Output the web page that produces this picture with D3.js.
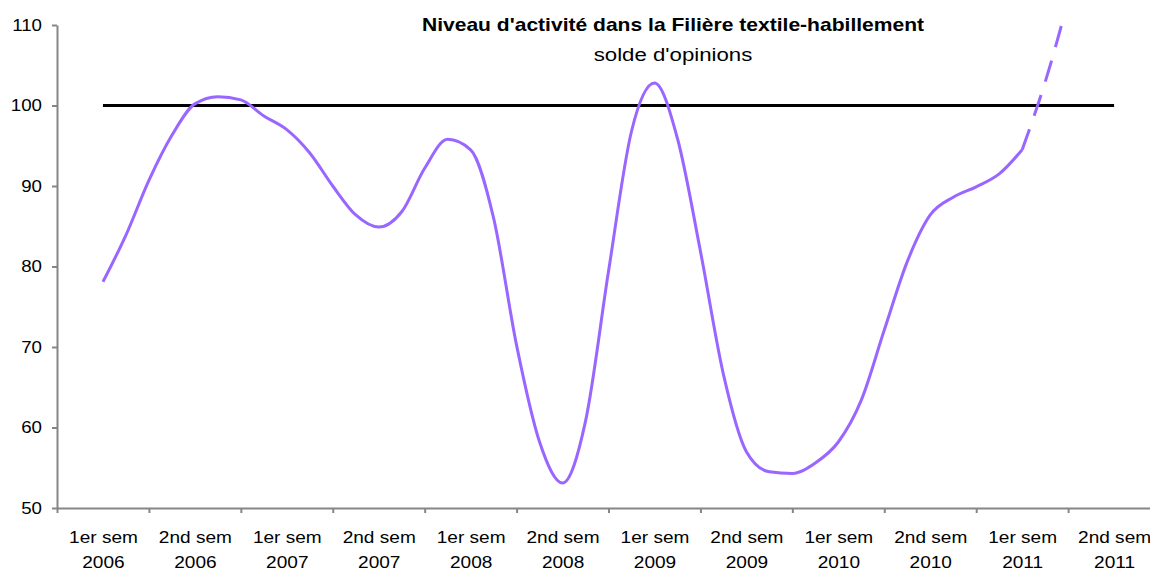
<!DOCTYPE html>
<html>
<head>
<meta charset="utf-8">
<script src="https://cdn.jsdelivr.net/npm/d3@7"></script>
<style>
	body { margin: 0; background: #fff; }
	svg { display: block; font-family: "Liberation Sans", Arial, sans-serif; }
</style>
</head>
<body>
<div id="chart"></div>
<script>
	// données
	var semestres = ["1er sem", "2nd sem", "1er sem", "2nd sem", "1er sem", "2nd sem",
		"1er sem", "2nd sem", "1er sem", "2nd sem", "1er sem", "2nd sem"];
	var annees = ["2006", "2006", "2007", "2007", "2008", "2008",
		"2009", "2009", "2010", "2010", "2011", "2011"];
	var yTicks = [50, 60, 70, 80, 90, 100, 110];

	// ligne de référence (base 100), un point par semestre
	var reference = [100, 100, 100, 100, 100, 100, 100, 100, 100, 100, 100, 100];

	// niveau d'activité, un point par trimestre (demi-semestre) à partir du 1er sem 2006
	var activite = [78.1, 83.9, 90.7, 96.3, 100.2, 101.1, 100.7, 98.7, 97.0, 94.1,
		90.0, 86.4, 84.9, 86.8, 92.2, 95.8, 94.5, 86.0, 70.2, 58.2,
		53.1, 60.8, 79.4, 96.8, 102.8, 95.9, 81.9, 66.6, 57.0, 54.5,
		54.3, 55.6, 58.2, 63.4, 72.1, 80.6, 86.4, 88.6, 89.9, 91.5,
		94.5, 102.9, 113];
	var debutPrevision = 40; // à partir d'ici la courbe est en pointillés

	var titre = "Niveau d'activité dans la Filière textile-habillement";
	var sousTitre = "solde d'opinions";

	var width = 1150,
		height = 568;
	var sx = 1.17; // texte étiré horizontalement comme sur l'original
	var axisColor = "#868686";

	var svg = d3.select("#chart").append("svg")
		.attr("width", width)
		.attr("height", height);

	var x = d3.scaleLinear().domain([0, 12]).range([57, 57 + 12 * 91.92]);
	var y = d3.scaleLinear().domain([50, 110]).range([508, 25]);

	svg.append("defs").append("clipPath").attr("id", "clip")
		.append("rect").attr("x", 0).attr("y", 22).attr("width", width).attr("height", height);

	// axe vertical
	var yAxis = svg.append("g")
		.attr("transform", "translate(57,0)")
		.call(d3.axisLeft(y).tickValues(yTicks).tickSize(5).tickSizeOuter(0).tickFormat(d3.format("d")));
	yAxis.attr("font-family", null).attr("font-size", 16);
	yAxis.selectAll("path, line").attr("stroke", axisColor).attr("stroke-width", 2);
	yAxis.selectAll("text")
		.attr("x", 0)
		.attr("fill", "#000")
		.attr("transform", "translate(-15,0) scale(" + sx + ",1)");

	// graduations de l'axe horizontal (limites des semestres)
	var xTicks = svg.append("g")
		.attr("transform", "translate(0,508)")
		.call(d3.axisBottom(x).tickValues(d3.range(0, 13)).tickSize(5).tickSizeOuter(0).tickFormat(""));
	xTicks.selectAll("path, line").attr("stroke", axisColor).attr("stroke-width", 2);

	// étiquettes des semestres, centrées dans chaque intervalle
	var xLabels = svg.append("g")
		.attr("transform", "translate(0,508)")
		.call(d3.axisBottom(x).tickValues(d3.range(12).map(function(i) { return i + 0.5; }))
			.tickSize(0).tickFormat(""));
	xLabels.select(".domain").remove();
	xLabels.attr("font-family", null).attr("font-size", 16.3);
	xLabels.selectAll(".tick text").each(function(d) {
		var i = Math.floor(d);
		var t = d3.select(this)
			.attr("y", null).attr("dy", null)
			.attr("fill", "#000")
			.attr("transform", "scale(" + sx + ",1)");
		t.append("tspan").attr("x", 0).attr("y", 35).text(semestres[i]);
		t.append("tspan").attr("x", 0).attr("y", 60).text(annees[i]);
	});

	// ligne base 100
	var refLine = d3.line()
		.x(function(d, i) { return x(i + 0.5); })
		.y(function(d) { return y(d); });
	svg.append("path")
		.datum(reference)
		.attr("d", refLine)
		.attr("fill", "none")
		.attr("stroke", "#000")
		.attr("stroke-width", 3);

	// courbe d'activité
	var pts = activite.map(function(v, k) { return { pos: 0.5 + k * 0.25, v: v }; });
	var courbe = d3.line()
		.curve(d3.curveMonotoneX)
		.x(function(d) { return x(d.pos); })
		.y(function(d) { return y(d.v); });

	var g = svg.append("g").attr("clip-path", "url(#clip)");
	g.append("path")
		.datum(pts.slice(0, debutPrevision + 1))
		.attr("d", courbe)
		.attr("fill", "none")
		.attr("stroke", "#9966FF")
		.attr("stroke-width", 3)
		.attr("stroke-linejoin", "round");
	g.append("path")
		.datum(pts.slice(debutPrevision))
		.attr("d", courbe)
		.attr("fill", "none")
		.attr("stroke", "#9966FF")
		.attr("stroke-width", 3)
		.attr("stroke-dasharray", "22,14");

	// titre
	svg.append("text")
		.attr("transform", "translate(673,31) scale(" + sx + ",1)")
		.attr("text-anchor", "middle")
		.attr("font-weight", "bold")
		.attr("font-size", 18)
		.text(titre);
	svg.append("text")
		.attr("transform", "translate(673,61) scale(" + sx + ",1)")
		.attr("text-anchor", "middle")
		.attr("font-size", 19)
		.text(sousTitre);
</script>
</body>
</html>
